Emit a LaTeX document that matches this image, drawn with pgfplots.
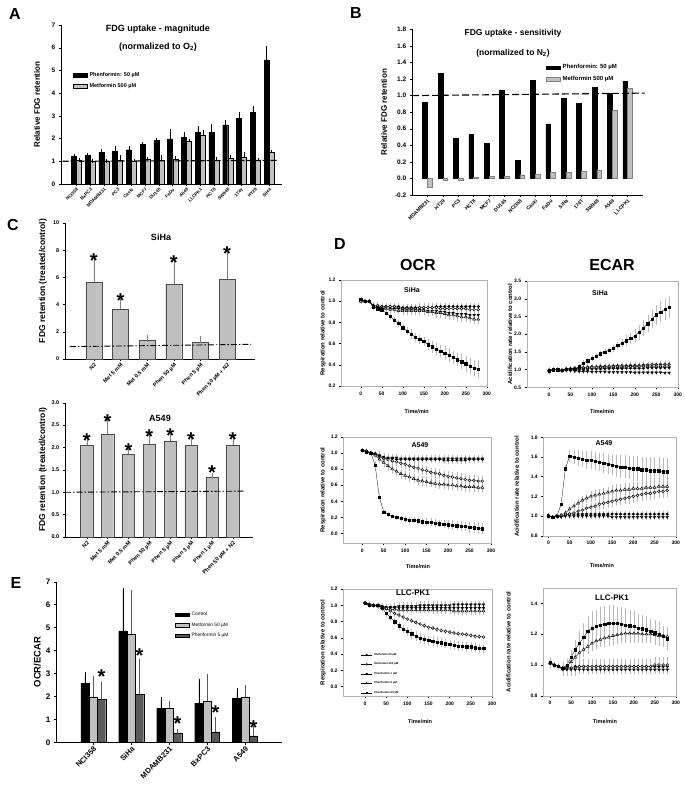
\documentclass[border=0pt]{standalone}
\usepackage{fontspec}
\setmainfont{Liberation Sans}
\usepackage{pgfplots}
\usepackage{pgfplotstable}
\pgfplotsset{compat=1.18}
\definecolor{lgray}{RGB}{192,192,192}
\definecolor{dgray}{RGB}{90,90,90}
\newcommand{\fs}[1]{\fontsize{#1}{#1}\selectfont\bfseries}

% columns: t, Met50, err, Met500, err, Phen1, err, Phen5, err, Phen50, err
\pgfplotstableread{
t a ea b eb c ec d ed f ef
0   1.01 0.01 1.00 0.01 1.01 0.01 1.00 0.01 1.02 0.01
10  1.00 0.01 1.00 0.01 1.00 0.01 1.00 0.01 1.00 0.01
20  1.00 0.01 1.00 0.01 1.00 0.01 1.00 0.01 1.00 0.01
30  0.96 0.02 0.96 0.02 0.95 0.02 0.95 0.02 0.95 0.01
40  0.95 0.02 0.96 0.02 0.94 0.02 0.94 0.02 0.93 0.01
50  0.95 0.02 0.95 0.02 0.94 0.02 0.93 0.02 0.92 0.01
60  0.95 0.02 0.95 0.02 0.94 0.02 0.93 0.02 0.89 0.01
70  0.95 0.02 0.95 0.02 0.93 0.02 0.92 0.02 0.86 0.02
80  0.95 0.02 0.95 0.02 0.93 0.02 0.92 0.02 0.82 0.02
90  0.95 0.02 0.94 0.02 0.93 0.02 0.91 0.02 0.79 0.02
100 0.94 0.02 0.93 0.03 0.92 0.02 0.91 0.03 0.75 0.02
110 0.94 0.02 0.93 0.03 0.92 0.02 0.91 0.03 0.72 0.02
120 0.94 0.02 0.93 0.03 0.92 0.02 0.91 0.03 0.69 0.03
130 0.94 0.02 0.93 0.03 0.92 0.02 0.91 0.03 0.66 0.03
140 0.94 0.02 0.94 0.03 0.92 0.02 0.91 0.03 0.64 0.03
150 0.94 0.02 0.94 0.03 0.92 0.02 0.91 0.03 0.62 0.03
160 0.94 0.02 0.94 0.03 0.91 0.02 0.90 0.03 0.59 0.04
170 0.94 0.02 0.94 0.03 0.91 0.02 0.90 0.03 0.57 0.04
180 0.95 0.02 0.94 0.03 0.91 0.02 0.89 0.03 0.55 0.04
190 0.95 0.02 0.93 0.03 0.90 0.02 0.89 0.03 0.53 0.04
200 0.95 0.02 0.93 0.03 0.90 0.02 0.88 0.03 0.51 0.05
210 0.95 0.02 0.93 0.03 0.89 0.02 0.87 0.03 0.49 0.05
220 0.95 0.02 0.93 0.03 0.89 0.02 0.87 0.03 0.47 0.05
230 0.95 0.02 0.93 0.03 0.88 0.02 0.86 0.03 0.45 0.05
240 0.95 0.02 0.93 0.03 0.88 0.02 0.85 0.03 0.43 0.06
250 0.95 0.02 0.93 0.03 0.88 0.02 0.85 0.03 0.41 0.06
260 0.95 0.02 0.92 0.03 0.87 0.02 0.84 0.03 0.39 0.06
270 0.95 0.02 0.92 0.03 0.87 0.02 0.83 0.03 0.37 0.06
280 0.95 0.02 0.92 0.03 0.87 0.02 0.83 0.03 0.36 0.07
}\tSO

\pgfplotstableread{
t a ea b eb c ec d ed f ef
0   0.96 0.06 0.97 0.05 0.95 0.05 0.98 0.05 0.97 0.07
10  1.00 0.02 1.00 0.02 0.99 0.02 1.00 0.02 1.00 0.02
20  1.00 0.02 1.00 0.02 1.00 0.02 1.00 0.02 1.00 0.02
30  0.97 0.02 0.98 0.02 0.96 0.02 0.98 0.02 0.98 0.02
40  1.01 0.03 1.02 0.03 0.98 0.02 1.01 0.03 1.02 0.03
50  1.00 0.03 1.03 0.03 0.97 0.02 1.02 0.03 1.02 0.03
60  1.01 0.03 1.04 0.03 0.96 0.02 1.03 0.03 1.02 0.03
70  1.01 0.03 1.05 0.04 0.95 0.02 1.04 0.04 1.08 0.03
80  1.01 0.03 1.06 0.04 0.95 0.02 1.05 0.04 1.18 0.04
90  1.02 0.03 1.07 0.04 0.95 0.02 1.05 0.04 1.25 0.04
100 1.02 0.03 1.08 0.04 0.94 0.02 1.06 0.04 1.32 0.04
110 1.02 0.03 1.08 0.04 0.94 0.02 1.06 0.04 1.38 0.04
120 1.02 0.03 1.09 0.04 0.94 0.02 1.07 0.04 1.45 0.04
130 1.03 0.03 1.09 0.04 0.94 0.02 1.07 0.04 1.50 0.05
140 1.03 0.03 1.10 0.04 0.93 0.02 1.08 0.04 1.55 0.05
150 1.03 0.03 1.10 0.04 0.93 0.02 1.08 0.04 1.60 0.06
160 1.03 0.03 1.11 0.04 0.93 0.02 1.08 0.04 1.68 0.07
170 1.03 0.03 1.11 0.04 0.93 0.02 1.08 0.04 1.75 0.08
180 1.04 0.03 1.11 0.04 0.93 0.02 1.09 0.04 1.82 0.10
190 1.04 0.03 1.12 0.04 0.93 0.02 1.09 0.04 1.88 0.12
200 1.04 0.03 1.12 0.04 0.92 0.02 1.09 0.04 1.95 0.14
210 1.04 0.03 1.12 0.04 0.92 0.02 1.09 0.04 2.05 0.16
220 1.04 0.03 1.13 0.04 0.92 0.02 1.10 0.04 2.17 0.18
230 1.05 0.03 1.13 0.04 0.92 0.02 1.10 0.04 2.30 0.20
240 1.05 0.03 1.14 0.04 0.92 0.02 1.10 0.04 2.43 0.22
250 1.05 0.03 1.14 0.04 0.92 0.02 1.10 0.04 2.55 0.24
260 1.05 0.03 1.15 0.04 0.92 0.02 1.10 0.04 2.63 0.25
270 1.05 0.03 1.15 0.04 0.91 0.02 1.10 0.04 2.70 0.26
280 1.05 0.03 1.15 0.04 0.91 0.02 1.10 0.04 2.76 0.27
}\tSE

\pgfplotstableread{
t a ea b eb c ec d ed f ef
0   1.03 0.01 1.03 0.01 1.03 0.01 1.03 0.01 1.03 0.01
10  1.02 0.01 1.02 0.01 1.02 0.01 1.02 0.01 1.01 0.01
20  1.00 0.01 1.00 0.01 1.00 0.01 1.00 0.01 1.00 0.01
30  0.99 0.02 0.98 0.02 0.99 0.02 0.97 0.02 0.85 0.03
40  0.96 0.03 0.95 0.03 0.97 0.03 0.92 0.03 0.45 0.02
50  0.93 0.03 0.93 0.04 0.95 0.03 0.88 0.04 0.27 0.01
60  0.93 0.03 0.92 0.04 0.94 0.03 0.84 0.04 0.24 0.01
70  0.93 0.03 0.90 0.04 0.94 0.03 0.80 0.04 0.22 0.01
80  0.92 0.03 0.89 0.04 0.94 0.03 0.77 0.04 0.20 0.01
90  0.92 0.03 0.87 0.04 0.93 0.03 0.74 0.04 0.19 0.01
100 0.92 0.03 0.86 0.04 0.93 0.03 0.72 0.04 0.18 0.02
110 0.92 0.03 0.84 0.04 0.93 0.03 0.70 0.04 0.17 0.02
120 0.92 0.03 0.82 0.04 0.93 0.03 0.68 0.04 0.165 0.02
130 0.92 0.03 0.81 0.04 0.93 0.03 0.66 0.04 0.16 0.02
140 0.92 0.03 0.79 0.04 0.93 0.03 0.65 0.04 0.15 0.02
150 0.92 0.03 0.78 0.04 0.93 0.03 0.64 0.04 0.145 0.03
160 0.92 0.03 0.76 0.04 0.93 0.03 0.63 0.04 0.14 0.03
170 0.92 0.03 0.75 0.04 0.93 0.03 0.62 0.04 0.13 0.03
180 0.92 0.03 0.74 0.04 0.93 0.03 0.61 0.04 0.125 0.03
190 0.91 0.03 0.72 0.04 0.93 0.03 0.61 0.04 0.12 0.03
200 0.91 0.03 0.71 0.05 0.93 0.03 0.60 0.04 0.11 0.04
210 0.91 0.03 0.70 0.05 0.93 0.03 0.60 0.04 0.105 0.04
220 0.91 0.03 0.69 0.05 0.93 0.03 0.59 0.04 0.10 0.04
230 0.91 0.03 0.68 0.05 0.93 0.03 0.59 0.04 0.095 0.04
240 0.91 0.03 0.67 0.05 0.93 0.03 0.58 0.04 0.09 0.04
250 0.92 0.03 0.66 0.05 0.93 0.03 0.58 0.04 0.08 0.05
260 0.92 0.03 0.66 0.05 0.93 0.03 0.58 0.04 0.075 0.05
270 0.92 0.03 0.65 0.05 0.93 0.03 0.57 0.04 0.07 0.05
280 0.92 0.03 0.65 0.05 0.93 0.03 0.57 0.04 0.06 0.05
}\tAO

\pgfplotstableread{
t a ea b eb c ec d ed f ef
0   1.01 0.01 1.00 0.01 1.00 0.01 1.00 0.01 1.00 0.01
10  0.99 0.01 0.99 0.01 0.99 0.01 0.99 0.01 0.99 0.01
20  1.00 0.01 1.00 0.01 1.00 0.01 1.00 0.01 1.00 0.01
30  1.00 0.01 1.00 0.01 0.99 0.01 1.01 0.01 1.12 0.01
40  1.01 0.02 1.01 0.02 1.00 0.02 1.03 0.02 1.48 0.02
50  1.02 0.02 1.02 0.02 1.00 0.02 1.07 0.02 1.61 0.05
60  1.02 0.02 1.03 0.02 1.00 0.02 1.10 0.03 1.60 0.06
70  1.02 0.02 1.05 0.03 1.00 0.02 1.13 0.03 1.59 0.07
80  1.02 0.02 1.06 0.03 1.00 0.02 1.16 0.03 1.58 0.07
90  1.02 0.02 1.08 0.03 1.00 0.02 1.18 0.03 1.57 0.08
100 1.02 0.02 1.09 0.03 1.00 0.02 1.20 0.04 1.57 0.08
110 1.02 0.02 1.10 0.03 1.00 0.02 1.21 0.04 1.56 0.08
120 1.02 0.02 1.12 0.04 1.00 0.02 1.22 0.04 1.55 0.08
130 1.02 0.02 1.13 0.04 1.00 0.02 1.23 0.04 1.54 0.09
140 1.02 0.02 1.14 0.04 1.00 0.02 1.24 0.04 1.53 0.09
150 1.02 0.02 1.15 0.04 0.99 0.02 1.25 0.05 1.52 0.09
160 1.02 0.02 1.16 0.04 0.99 0.02 1.26 0.05 1.51 0.10
170 1.02 0.02 1.17 0.04 0.99 0.02 1.26 0.05 1.50 0.10
180 1.02 0.02 1.18 0.04 0.99 0.02 1.27 0.05 1.50 0.10
190 1.02 0.02 1.19 0.05 0.99 0.02 1.27 0.05 1.49 0.10
200 1.02 0.02 1.20 0.05 0.99 0.02 1.28 0.05 1.48 0.11
210 1.02 0.02 1.21 0.05 0.99 0.02 1.28 0.05 1.48 0.11
220 1.02 0.02 1.22 0.05 0.99 0.02 1.28 0.05 1.47 0.11
230 1.02 0.02 1.23 0.05 0.99 0.02 1.29 0.05 1.47 0.11
240 1.02 0.02 1.23 0.05 0.99 0.02 1.29 0.05 1.46 0.12
250 1.02 0.02 1.24 0.05 0.99 0.02 1.29 0.05 1.46 0.12
260 1.02 0.02 1.25 0.05 0.99 0.02 1.30 0.05 1.46 0.12
270 1.02 0.02 1.25 0.05 0.99 0.02 1.30 0.05 1.45 0.12
280 1.02 0.02 1.26 0.05 0.99 0.02 1.30 0.05 1.45 0.12
}\tAE

\pgfplotstableread{
t a ea b eb c ec d ed f ef
0   1.03 0.01 1.03 0.01 1.03 0.01 1.03 0.01 1.03 0.01
10  1.01 0.01 1.01 0.01 1.01 0.01 1.01 0.01 1.00 0.01
20  1.00 0.01 1.00 0.01 1.00 0.01 1.00 0.01 1.00 0.01
30  0.99 0.02 1.00 0.02 1.00 0.02 0.99 0.02 1.00 0.02
40  0.98 0.02 0.98 0.02 0.99 0.02 0.97 0.02 0.97 0.02
50  0.97 0.02 0.96 0.02 0.98 0.02 0.96 0.02 0.90 0.02
60  0.97 0.02 0.93 0.02 0.98 0.02 0.95 0.02 0.85 0.02
70  0.97 0.02 0.90 0.02 0.98 0.03 0.95 0.02 0.80 0.03
80  0.97 0.02 0.88 0.02 0.99 0.03 0.94 0.02 0.75 0.03
90  0.97 0.03 0.855 0.02 0.99 0.03 0.94 0.02 0.71 0.03
100 0.97 0.03 0.83 0.01 0.99 0.03 0.94 0.02 0.68 0.04
110 0.97 0.03 0.81 0.01 0.99 0.03 0.94 0.02 0.65 0.04
120 0.97 0.03 0.79 0.01 0.99 0.03 0.94 0.02 0.62 0.04
130 0.97 0.03 0.77 0.01 1.00 0.03 0.94 0.02 0.60 0.04
140 0.97 0.03 0.75 0.01 1.00 0.03 0.94 0.02 0.58 0.04
150 0.97 0.03 0.73 0.01 1.00 0.03 0.94 0.02 0.57 0.04
160 0.97 0.03 0.72 0.01 1.00 0.03 0.94 0.03 0.56 0.04
170 0.97 0.03 0.705 0.01 1.00 0.03 0.94 0.03 0.55 0.04
180 0.97 0.03 0.69 0.01 1.00 0.03 0.94 0.03 0.54 0.04
190 0.97 0.03 0.68 0.01 1.00 0.03 0.94 0.03 0.53 0.04
200 0.97 0.03 0.67 0.01 1.00 0.03 0.94 0.03 0.52 0.04
210 0.97 0.03 0.66 0.01 1.01 0.03 0.93 0.03 0.51 0.04
220 0.97 0.03 0.65 0.01 1.01 0.03 0.93 0.03 0.50 0.04
230 0.97 0.03 0.645 0.01 1.01 0.03 0.93 0.03 0.50 0.04
240 0.97 0.03 0.64 0.01 1.01 0.03 0.93 0.03 0.49 0.04
250 0.97 0.03 0.63 0.01 1.01 0.03 0.93 0.03 0.49 0.04
260 0.97 0.03 0.62 0.01 1.01 0.03 0.93 0.03 0.48 0.04
270 0.97 0.03 0.615 0.01 1.01 0.03 0.93 0.03 0.47 0.04
280 0.97 0.03 0.61 0.01 1.01 0.03 0.93 0.03 0.47 0.04
}\tLO

\pgfplotstableread{
t a ea b eb c ec d ed f ef
0   1.01 0.02 1.01 0.02 1.01 0.02 1.01 0.02 1.02 0.02
10  1.00 0.01 1.00 0.01 1.00 0.01 1.00 0.01 1.00 0.01
20  0.99 0.01 0.99 0.01 0.99 0.01 0.99 0.01 0.99 0.01
30  0.98 0.03 0.97 0.03 0.98 0.03 0.98 0.03 0.98 0.03
40  0.98 0.03 0.98 0.03 0.97 0.03 0.99 0.03 1.00 0.03
50  0.98 0.03 0.98 0.03 0.97 0.03 1.02 0.03 1.05 0.04
60  0.99 0.03 0.98 0.04 0.97 0.02 1.05 0.03 1.10 0.05
70  0.99 0.03 0.99 0.04 0.97 0.02 1.08 0.03 1.14 0.07
80  0.99 0.03 0.99 0.04 0.97 0.02 1.10 0.04 1.18 0.08
90  0.99 0.03 0.99 0.04 0.97 0.02 1.12 0.04 1.22 0.09
100 0.99 0.03 0.99 0.04 0.97 0.02 1.14 0.04 1.24 0.10
110 0.99 0.03 0.99 0.04 0.97 0.02 1.155 0.04 1.25 0.10
120 0.99 0.03 0.99 0.04 0.97 0.02 1.165 0.04 1.26 0.11
130 0.99 0.03 0.99 0.04 0.97 0.02 1.175 0.05 1.265 0.11
140 0.99 0.03 0.99 0.04 0.97 0.02 1.18 0.05 1.27 0.11
150 0.99 0.03 0.99 0.04 0.97 0.02 1.19 0.05 1.27 0.11
160 0.99 0.03 0.99 0.04 0.97 0.02 1.195 0.05 1.27 0.10
170 0.99 0.03 0.99 0.04 0.97 0.02 1.20 0.05 1.265 0.10
180 0.99 0.03 0.99 0.04 0.97 0.02 1.205 0.05 1.26 0.10
190 0.99 0.03 0.99 0.04 0.97 0.02 1.205 0.05 1.255 0.09
200 0.99 0.03 0.99 0.04 0.97 0.02 1.205 0.05 1.25 0.09
210 0.99 0.03 0.99 0.04 0.97 0.02 1.205 0.05 1.24 0.08
220 0.99 0.03 0.99 0.04 0.97 0.02 1.20 0.05 1.235 0.08
230 0.99 0.03 0.99 0.04 0.97 0.02 1.20 0.05 1.23 0.08
240 0.99 0.03 0.99 0.04 0.97 0.02 1.20 0.05 1.22 0.07
250 0.99 0.03 1.00 0.04 0.97 0.02 1.195 0.05 1.21 0.07
260 0.99 0.03 1.00 0.04 0.97 0.02 1.19 0.05 1.20 0.07
270 0.99 0.03 1.00 0.04 0.97 0.02 1.19 0.05 1.185 0.06
280 0.99 0.03 1.00 0.04 0.97 0.02 1.185 0.05 1.17 0.06
}\tLE

\pgfplotsset{
  sp/.style={scale only axis, anchor=south west, enlargelimits=false,
    /pgf/number format/assume math mode=true,
    tick align=outside, major tick length=2.2pt,
    tick style={black, line width=0.4pt},
    axis line style={line width=0.5pt},
    axis x line*=bottom, axis y line*=left},
  dax/.style={scale only axis, anchor=south west, enlargelimits=false,
    /pgf/number format/assume math mode=true,
    axis line style={gray!60, line width=0.4pt},
    tick align=outside, major tick length=2pt,
    tick style={black, line width=0.35pt},
    xtick pos=left, ytick pos=left, xmax=300,
    xtick={0,50,100,150,200,250,300},
    tick label style={font=\fs{5}},
    yticklabel style={/pgf/number format/fixed, /pgf/number format/fixed zerofill, /pgf/number format/precision=1},
    ylabel style={font=\fs{6}, anchor=center},
    xlabel={Time/min}, xlabel style={font=\fs{5.5}, anchor=center}},
  dser/.style={black, line width=0.3pt, mark size=1.3pt, forget plot,
    error bars/y dir=both, error bars/y explicit,
    error bars/error bar style={gray!55, line width=0.3pt},
    error bars/error mark options={gray!55, mark size=1.5pt, line width=0.3pt}},
  openm/.style={mark options={fill=white, draw=black, line width=0.5pt, solid}},
  rleg/.style={legend image code/.code={\draw[##1] (0pt,-1.8pt) rectangle (14pt,1.8pt);}},
  dleg/.style={legend image code/.code={\draw[mark repeat=2, mark phase=2, ##1] plot coordinates {(0pt,0pt) (5.5pt,0pt) (11pt,0pt)};}},
  star/.style={forget plot, draw=none, mark=none, nodes near coords={*},
    every node near coord/.style={font=\fs{20}, anchor=center, text=black, inner sep=0pt, yshift=-4pt}},
}

\newcommand{\dplots}[1]{%
  \addplot[dser, mark=*] table[x=t, y=a, y error=ea] {#1};
  \addplot[dser, mark=*, mark size=1.35pt, openm] table[x=t, y=b, y error=eb] {#1};
  \addplot[dser, mark=triangle*, mark size=1.5pt, mark options={rotate=180}] table[x=t, y=c, y error=ec] {#1};
  \addplot[dser, mark=triangle*, mark size=1.6pt, openm] table[x=t, y=d, y error=ed] {#1};
  \addplot[dser, mark=square*, mark size=1.15pt] table[x=t, y=f, y error=ef] {#1};
}

\begin{document}
\begin{tikzpicture}
\useasboundingbox (0pt,0pt) rectangle (685pt,-790pt);

% ---------- A ----------
\begin{axis}[sp, at={(61pt,-184pt)}, width=221pt, height=159pt, clip=false,
  xmin=-1.11, xmax=14.94, ymin=0, ymax=7, ytick={0,1,2,3,4,5,6,7},
  xtick={0,...,14},
  xticklabels={NCI358,BxPC3,MDAMB231,PC3,Caski,MCF7,DU145,FaDu,A549,LLCPK1,HCT8,SW948,174T,HT29,SiHa},
  x tick label style={rotate=45, anchor=north east, font=\fs{4.5}, inner sep=1pt},
  y tick label style={font=\fs{6.5}},
  ylabel={Relative FDG retention},
  ylabel style={font=\fs{8}, at={(axis description cs:-0.109,0.5)}, anchor=center},
  legend style={at={(0.054,0.717)}, anchor=north west, draw=none, fill=none,
    font=\fs{5.5}, row sep=1.5pt, inner sep=0pt, cells={anchor=west}},
]
\addplot[ybar, forget plot, bar width=5pt, bar shift=0pt, fill=black, draw=black,
  error bars/y dir=plus, error bars/y explicit, error bars/error mark options={mark size=1.6pt}]
  coordinates {(-0.182,1.23) +- (0,0.03) (0.818,1.26) +- (0,0.02) (1.818,1.38) +- (0,0.10) (2.818,1.46) +- (0,0.14)
  (3.818,1.51) +- (0,0.09) (4.818,1.76) +- (0,0.03) (5.818,1.92) +- (0,0.05) (6.818,1.99) +- (0,0.37)
  (7.818,2.06) +- (0,0.15) (8.818,2.27) +- (0,0.20) (9.818,2.27) +- (0,0.29) (10.818,2.60) +- (0,0.16)
  (11.818,2.90) +- (0,0.20) (12.818,3.15) +- (0,0.23) (13.818,5.46) +- (0,0.55)};
\addplot[ybar, forget plot, bar width=5pt, bar shift=0pt, fill=lgray, draw=black, line width=0.3pt,
  error bars/y dir=plus, error bars/y explicit, error bars/error mark options={mark size=1.6pt}]
  coordinates {(0.182,1.05) +- (0,0.02) (1.182,1.00) +- (0,0.01) (2.182,1.00) +- (0,0.01) (3.182,1.05) +- (0,0.14)
  (4.182,1.02) +- (0,0.01) (5.182,1.09) +- (0,0.02) (6.182,1.05) +- (0,0.14) (7.182,1.10) +- (0,0.08)
  (8.182,1.88) +- (0,0.05) (9.182,2.17) +- (0,0.14) (10.182,1.07) +- (0,0.04) (11.182,1.15) +- (0,0.07)
  (12.182,1.20) +- (0,0.12) (13.182,1.05) +- (0,0.04) (14.182,1.40) +- (0,0.02)};
\addplot[forget plot, black, line width=1.1pt, dash pattern=on 6pt off 2pt] coordinates {(-1.0,1.0) (14.7,1.04)};
\addlegendimage{rleg, fill=black, draw=black}
\addlegendentry{Phenformin: 50 µM}
\addlegendimage{rleg, fill=lgray, draw=black}
\addlegendentry{Metformin 500 µM}
\end{axis}

% ---------- B ----------
\begin{axis}[sp, at={(412pt,-195pt)}, width=231pt, height=165.7pt, clip=false,
  xmin=-1, xmax=14, ymin=-0.2, ymax=1.8,
  ytick={-0.2,0,0.2,0.4,0.6,0.8,1.0,1.2,1.4,1.6,1.8},
  yticklabel style={/pgf/number format/fixed, /pgf/number format/fixed zerofill, /pgf/number format/precision=1, font=\fs{6.5}},
  xtick={0,...,13},
  xticklabels={MDAMB231,HT29,PC3,HCT8,MCF7,DU145,NCI358,Caski,FaDu,SiHa,174T,SW948,A549,LLCPK1},
  x tick label style={rotate=45, anchor=north east, font=\fs{5}, inner sep=1pt},
  ylabel={Relative FDG retention},
  ylabel style={font=\fs{8}, at={(axis description cs:-0.121,0.5)}, anchor=center},
  legend style={at={(0.58,0.80)}, anchor=north west, draw=none, fill=none,
    font=\fs{6}, row sep=1.5pt, inner sep=0pt, cells={anchor=west}},
]
\addplot[ybar, forget plot, bar width=4.8pt, bar shift=-2.4pt, fill=black, draw=black]
  coordinates {(0,0.92) (1,1.27) (2,0.48) (3,0.53) (4,0.42) (5,1.07) (6,0.22) (7,1.18)
  (8,0.66) (9,0.97) (10,0.91) (11,1.10) (12,1.03) (13,1.17)};
\addplot[ybar, forget plot, bar width=4.8pt, bar shift=2.4pt, fill=lgray, draw=gray, line width=0.3pt]
  coordinates {(0,-0.11) (1,-0.02) (2,-0.02) (3,0.01) (4,0.025) (5,0.03) (6,0.045) (7,0.05)
  (8,0.07) (9,0.07) (10,0.085) (11,0.10) (12,0.82) (13,1.09)};
\addplot[forget plot, black, line width=1.1pt, dash pattern=on 7pt off 3pt] coordinates {(-1,1.0) (14.1,1.03)};
\addlegendimage{rleg, fill=black, draw=black}
\addlegendentry{Phenformin: 50 µM}
\addlegendimage{rleg, fill=lgray, draw=gray}
\addlegendentry{Metformin 500 µM}
\end{axis}

% ---------- C top ----------
\begin{axis}[sp, at={(65pt,-359pt)}, width=190pt, height=136pt, clip=false,
  xmin=-1.08, xmax=6.05, ymin=0, ymax=10, ytick={0,2,4,6,8,10},
  xtick={0,...,5},
  xticklabels={N2,Met 5 mM,Met 0.5 mM,Phen 50 µM,Phen 5 µM,Phen 50 µM + N2},
  x tick label style={rotate=45, anchor=north east, font=\fs{5.5}, inner sep=1pt},
  y tick label style={font=\fs{5.5}},
  ylabel={FDG retention (treated/control)},
  ylabel style={font=\fs{8.5}, at={(axis description cs:-0.116,0.574)}, anchor=center},
]
\addplot[ybar, forget plot, bar width=16pt, fill=lgray, draw=gray!60!black, line width=0.4pt,
  error bars/y dir=plus, error bars/y explicit, error bars/error bar style={gray},
  error bars/error mark options={gray, mark size=3.3pt}]
  coordinates {(0,5.65) +- (0,1.48) (1,3.69) +- (0,0.54) (2,1.35) +- (0,0.17)
  (3,5.48) +- (0,1.57) (4,1.23) +- (0,0.22) (5,5.87) +- (0,1.77)};
\addplot[forget plot, black, line width=0.9pt, dash pattern=on 6pt off 2pt on 1.5pt off 2pt]
  coordinates {(-0.9,0.91) (5.9,1.08)};
\addplot[star] coordinates {(0,7.52) (1,4.58) (3,7.35) (5,8.01)};
\end{axis}

% ---------- C bottom ----------
\begin{axis}[sp, at={(65pt,-537pt)}, width=188pt, height=134.3pt, clip=false,
  xmin=-1.04, xmax=7.97, ymin=0, ymax=3, ytick={0,0.5,1,1.5,2,2.5,3},
  yticklabel style={/pgf/number format/fixed, /pgf/number format/fixed zerofill, /pgf/number format/precision=1, font=\fs{5.5}},
  xtick={0,...,7},
  xticklabels={N2,Met 5 mM,Met 0.5 mM,Phen 50 µM,Phen 5 µM,Phen 3 µM,Phen 1 µM,Phen 50 µM + N2},
  x tick label style={rotate=45, anchor=north east, font=\fs{5.5}, inner sep=1pt},
  ylabel={FDG retention (treated/control)},
  ylabel style={font=\fs{8.5}, at={(axis description cs:-0.117,0.5)}, anchor=center},
]
\addplot[ybar, forget plot, bar width=12.3pt, fill=lgray, draw=gray!60!black, line width=0.4pt,
  error bars/y dir=plus, error bars/y explicit, error bars/error bar style={gray},
  error bars/error mark options={gray, mark size=3pt}]
  coordinates {(0,2.05) +- (0,0.07) (1,2.29) +- (0,0.27) (2,1.85) +- (0,0.07) (3,2.07) +- (0,0.16)
  (4,2.15) +- (0,0.08) (5,2.05) +- (0,0.11) (6,1.34) +- (0,0.03) (7,2.06) +- (0,0.08)};
\addplot[forget plot, black, line width=0.9pt, dash pattern=on 6pt off 2pt on 1.5pt off 2pt]
  coordinates {(-1.04,1.0) (7.57,1.025)};
\addplot[star] coordinates {(0,2.24) (1,2.66) (2,2.03) (3,2.34) (4,2.35) (5,2.26) (6,1.53) (7,2.26)};
\end{axis}

% ---------- E ----------
\begin{axis}[sp, at={(56pt,-742.3pt)}, width=226pt, height=160.6pt, clip=false,
  xmin=-0.98, xmax=4.97, ymin=0, ymax=7, ytick={0,1,2,3,4,5,6,7},
  xtick={0,...,4}, xticklabels={NCI358,SiHa,MDAMB231,BxPC3,A549},
  x tick label style={rotate=45, anchor=north east, font=\fs{7.5}, inner sep=1pt},
  y tick label style={font=\fs{8}},
  ylabel={OCR/ECAR},
  ylabel style={font=\fs{9.5}, at={(axis description cs:-0.083,0.5)}, anchor=center},
  legend style={at={(0.527,0.824)}, anchor=north west, draw=none, fill=none,
    font=\fontsize{4.8}{4.8}\selectfont, row sep=1.6pt, inner sep=0pt, cells={anchor=west}},
]
\addplot[ybar, forget plot, bar width=8.3pt, bar shift=0pt, fill=black, draw=black,
  error bars/y dir=plus, error bars/y explicit, error bars/error mark options={mark size=3pt}]
  coordinates {(-0.219,2.57) +- (0,0.38) (0.781,4.86) +- (0,1.74) (1.781,1.49) +- (0,0.35) (2.781,1.71) +- (0,0.93) (3.781,1.92) +- (0,0.32)};
\addplot[ybar, forget plot, bar width=8.3pt, bar shift=0pt, fill=lgray, draw=black, line width=0.3pt,
  error bars/y dir=plus, error bars/y explicit, error bars/error bar style={dgray},
  error bars/error mark options={dgray, mark size=3pt}]
  coordinates {(0,1.99) +- (0,0.77) (1,4.70) +- (0,1.82) (2,1.48) +- (0,0.17) (3,1.79) +- (0,1.07) (4,1.96) +- (0,0.42)};
\addplot[ybar, forget plot, bar width=8.3pt, bar shift=0pt, fill=dgray, draw=black, line width=0.3pt,
  error bars/y dir=plus, error bars/y explicit, error bars/error bar style={dgray},
  error bars/error mark options={dgray, mark size=3pt}]
  coordinates {(0.219,1.86) +- (0,0.62) (1.219,2.09) +- (0,1.41) (2.219,0.41) +- (0,0.02) (3.219,0.46) +- (0,0.53) (4.219,0.28) +- (0,0.29)};
\addplot[star] coordinates {(0.219,3.02) (1.219,3.95) (2.219,1.0) (3.219,1.48) (4.219,0.83)};
\addlegendimage{rleg, fill=black, draw=black}
\addlegendentry{Control}
\addlegendimage{rleg, fill=lgray, draw=black}
\addlegendentry{Metformin 50 µM}
\addlegendimage{rleg, fill=dgray, draw=black}
\addlegendentry{Phenformin 5 µM}
\end{axis}

% ---------- D ----------
\begin{axis}[dax, at={(341pt,-386pt)}, width=145.7pt, height=106pt,
  xmin=-47, ymin=0.2, ymax=1.2, ytick={0.2,0.4,0.6,0.8,1.0,1.2},
  ylabel={Respiration relative to control},
  ylabel style={at={(axis description cs:-0.123,0.5)}},
  xlabel style={at={(axis description cs:0.52,-0.245)}}]
\dplots{\tSO}
\end{axis}
\begin{axis}[dax, at={(526.7pt,-387.3pt)}, width=151pt, height=106.3pt,
  xmin=-52, ymin=0.5, ymax=3.5, ytick={0.5,1.0,1.5,2.0,2.5,3.0,3.5},
  ylabel={Acidification rate relative to control},
  ylabel style={at={(axis description cs:-0.11,0.5)}},
  xlabel style={at={(axis description cs:0.5,-0.232)}}]
\dplots{\tSE}
\end{axis}
\begin{axis}[dax, at={(343.3pt,-543.3pt)}, width=147.7pt, height=106.6pt,
  xmin=-44, ymin=-0.12, ymax=1.2, ytick={0.0,0.2,0.4,0.6,0.8,1.0,1.2},
  ylabel={Respiration relative to control},
  ylabel style={at={(axis description cs:-0.137,0.5)}},
  xlabel style={at={(axis description cs:0.505,-0.222)}}]
\dplots{\tAO}
\end{axis}
\begin{axis}[dax, at={(543.3pt,-535.7pt)}, width=132.4pt, height=98.4pt,
  xmin=-12, ymin=0.8, ymax=1.8, ytick={0.8,1.0,1.2,1.4,1.6,1.8},
  ylabel={Acidification rate relative to control},
  ylabel style={at={(axis description cs:-0.2,0.5)}},
  xlabel style={at={(axis description cs:0.443,-0.308)}}]
\dplots{\tAE}
\end{axis}
\begin{axis}[dax, at={(343pt,-696pt)}, width=149pt, height=107pt,
  xmin=-52, ymin=-0.115, ymax=1.2, ytick={0.0,0.2,0.4,0.6,0.8,1.0,1.2},
  ylabel={Respiration relative to control},
  ylabel style={at={(axis description cs:-0.134,0.5)}},
  xlabel style={at={(axis description cs:0.517,-0.243)}},
  legend style={at={(0.12,0.42)}, anchor=north west, draw=none, fill=none,
    font=\fs{2.8}, row sep=1.9pt, inner sep=0pt, cells={anchor=west}}]
\dplots{\tLO}
\addlegendimage{dleg, black, line width=0.3pt, mark=*, mark size=0.9pt}
\addlegendentry{Metformin 50 µM}
\addlegendimage{dleg, black, line width=0.3pt, mark=*, mark size=0.9pt, openm}
\addlegendentry{Metformin 500 µM}
\addlegendimage{dleg, black, line width=0.3pt, mark=triangle*, mark size=1pt, mark options={rotate=180}}
\addlegendentry{Phenformin 1 µM}
\addlegendimage{dleg, black, line width=0.3pt, mark=triangle*, mark size=1pt, openm}
\addlegendentry{Phenformin 5 µM}
\addlegendimage{dleg, black, line width=0.3pt, mark=square*, mark size=0.8pt}
\addlegendentry{Phenformin 50 µM}
\end{axis}
\begin{axis}[dax, at={(543pt,-695.7pt)}, width=132.7pt, height=107.7pt,
  xmin=-17, ymin=0.8, ymax=1.5, ytick={0.8,1.0,1.2,1.4},
  ylabel={Acidification rate relative to control},
  ylabel style={at={(axis description cs:-0.26,0.5)}},
  xlabel style={at={(axis description cs:0.467,-0.244)}}]
\dplots{\tLE}
\end{axis}

% ---------- titles and panel letters ----------
\node[font=\fs{16}] at (15pt,-14pt) {A};
\node[font=\fs{16}] at (356pt,-13pt) {B};
\node[font=\fs{16}] at (13pt,-225pt) {C};
\node[font=\fs{16}] at (340pt,-244pt) {D};
\node[font=\fs{16}] at (16pt,-583pt) {E};
\node[font=\fs{9}] at (158pt,-29pt) {FDG uptake - magnitude};
\node[font=\fs{9}] at (158pt,-47pt) {(normalized to O\textsubscript{2})};
\node[font=\fs{8.5}] at (513pt,-33pt) {FDG uptake - sensitivity};
\node[font=\fs{8.5}] at (513pt,-53pt) {(normalized to N\textsubscript{2})};
\node[font=\fs{9}] at (161pt,-237pt) {SiHa};
\node[font=\fs{9}] at (160pt,-418pt) {A549};
\node[font=\fs{16}] at (418pt,-265pt) {OCR};
\node[font=\fs{16}] at (612pt,-265pt) {ECAR};
\node[font=\fs{7}] at (412pt,-290pt) {SiHa};
\node[font=\fs{7}] at (600pt,-293pt) {SiHa};
\node[font=\fs{7}] at (420pt,-445pt) {A549};
\node[font=\fs{7}] at (604pt,-443pt) {A549};
\node[font=\fs{8}] at (413pt,-593pt) {LLC-PK1};
\node[font=\fs{8}] at (612pt,-598pt) {LLC-PK1};
\end{tikzpicture}
\end{document}
